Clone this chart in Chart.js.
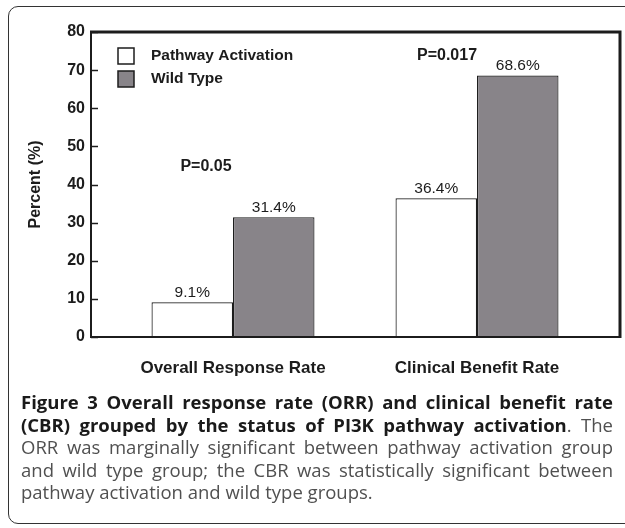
<!DOCTYPE html>
<html>
<head>
<meta charset="utf-8">
<script src="https://cdn.jsdelivr.net/npm/chart.js@4/dist/chart.umd.min.js"></script>
<style>
    html, body { margin: 0; padding: 0; background: #fff; }
    body { width: 625px; height: 528px; position: relative; overflow: hidden; }
    .frame {
        position: absolute; left: 8px; top: 6px; width: 640px; height: 518px;
        border: 1.5px solid #333; border-radius: 10px; box-sizing: border-box;
    }
    .chart-box { position: absolute; left: 0; top: 0; width: 625px; height: 392px; }
    .caption {
        position: absolute; left: 21px; top: 391px; width: 592px;
        font-family: 'Open Sans', sans-serif; font-size: 18.5px; line-height: 22.5px;
        color: #505050;
    }
    .caption div { white-space: nowrap; text-align: justify; text-align-last: justify; }
    .caption div.last { text-align-last: left; }
    .caption b { color: #1a1a1a; }
</style>
</head>
<body>
<div class="frame"></div>
<div class="chart-box"><canvas id="chart" width="625" height="392"></canvas></div>
<div class="caption">
    <div><b>Figure 3 Overall response rate (ORR) and clinical benefit rate</b></div>
    <div><b>(CBR) grouped by the status of PI3K pathway activation</b>. The</div>
    <div>ORR was marginally significant between pathway activation group</div>
    <div>and wild type group; the CBR was statistically significant between</div>
    <div class="last">pathway activation and wild type groups.</div>
</div>

<script>
// data
const categories = ['Overall Response Rate', 'Clinical Benefit Rate'];
const seriesNames = ['Pathway Activation', 'Wild Type'];
const pathwayActivation = [9.1, 36.4];
const wildType = [31.4, 68.6];
const yTicks = [0, 10, 20, 30, 40, 50, 60, 70, 80];
const pValues = ['P=0.05', 'P=0.017'];

const INK = '#1c1c1c';
const GREY = '#888489';
const FONT = "'Liberation Sans', Arial, sans-serif";

// frame, inward ticks, legend, value labels and p-values
const decorations = {
    id: 'decorations',
    afterDatasetsDraw(chart) {
        const ctx = chart.ctx;
        const a = chart.chartArea;
        const y = chart.scales.y;
        const x = chart.scales.x;
        ctx.save();

        // y ticks pointing inwards
        ctx.strokeStyle = INK;
        ctx.lineWidth = 1.5;
        yTicks.forEach(t => {
            const py = Math.round(y.getPixelForValue(t)) + 0.5;
            ctx.beginPath();
            ctx.moveTo(a.left, py);
            ctx.lineTo(a.left + 7, py);
            ctx.stroke();
        });

        // plot frame
        ctx.lineWidth = 2;
        ctx.beginPath();
        ctx.moveTo(a.left, a.top);
        ctx.lineTo(a.left, a.bottom);
        ctx.lineTo(a.right, a.bottom);
        ctx.stroke();
        ctx.lineWidth = 3;
        ctx.beginPath();
        ctx.moveTo(a.left - 1, a.top);
        ctx.lineTo(a.right, a.top);
        ctx.lineTo(a.right, a.bottom + 1);
        ctx.stroke();

        // value labels above bars
        ctx.fillStyle = INK;
        ctx.font = '15.5px ' + FONT;
        ctx.textAlign = 'center';
        ctx.textBaseline = 'alphabetic';
        chart.data.datasets.forEach((ds, di) => {
            chart.getDatasetMeta(di).data.forEach((bar, i) => {
                ctx.fillText(ds.data[i].y.toFixed(1) + '%', bar.x, bar.y - 5);
            });
        });

        // p-values
        ctx.font = 'bold 16px ' + FONT;
        ctx.textBaseline = 'middle';
        ctx.fillText(pValues[0], x.getPixelForValue(0) - 27, y.getPixelForValue(44.7));
        ctx.fillText(pValues[1], x.getPixelForValue(1) - 30, y.getPixelForValue(73.8));

        // legend
        ctx.textAlign = 'left';
        ctx.font = 'bold 15.5px ' + FONT;
        chart.data.datasets.forEach((ds, di) => {
            const top = a.top + 16 + di * 23;
            ctx.fillStyle = ds.backgroundColor;
            ctx.fillRect(a.left + 27, top, 16, 16);
            ctx.lineWidth = 1.5;
            ctx.strokeStyle = INK;
            ctx.strokeRect(a.left + 27, top, 16, 16);
            ctx.fillStyle = INK;
            ctx.fillText(ds.label, a.left + 60, top + 8);
        });
        ctx.restore();
    }
};

const toPoints = arr => arr.map((v, i) => ({ x: i, y: v }));

new Chart(document.getElementById('chart'), {
    type: 'bar',
    data: {
        datasets: [
            {
                label: seriesNames[0],
                data: toPoints(pathwayActivation),
                backgroundColor: '#ffffff',
                borderColor: INK,
                borderWidth: 1.2
            },
            {
                label: seriesNames[1],
                data: toPoints(wildType),
                backgroundColor: GREY,
                borderColor: INK,
                borderWidth: 1.2
            }
        ]
    },
    options: {
        responsive: false,
        animation: false,
        categoryPercentage: 0.668,
        barPercentage: 1,
        layout: { padding: { top: 32, right: 5, left: 0, bottom: 0 } },
        plugins: {
            legend: { display: false },
            tooltip: { enabled: false }
        },
        scales: {
            x: {
                type: 'linear',
                offset: false,
                min: -0.582,
                max: 1.586,
                grid: { display: false, drawTicks: false },
                border: { display: false },
                afterBuildTicks: s => { s.ticks = categories.map((c, i) => ({ value: i })); },
                afterFit: s => { s.height = 55; },
                ticks: {
                    padding: 21,
                    color: INK,
                    font: { family: FONT, size: 17, weight: 'bold' },
                    callback: v => categories[v]
                }
            },
            y: {
                min: 0,
                max: 80,
                afterBuildTicks: s => { s.ticks = yTicks.map(v => ({ value: v })); },
                afterFit: s => { s.width = 91; },
                grid: { display: false, drawTicks: false },
                border: { display: false },
                ticks: {
                    padding: 6,
                    color: INK,
                    font: { family: FONT, size: 16, weight: 'bold' }
                },
                title: {
                    display: true,
                    text: 'Percent (%)',
                    color: INK,
                    padding: { top: 26, bottom: 0 },
                    font: { family: FONT, size: 16, weight: 'bold' }
                }
            }
        }
    },
    plugins: [decorations]
});
</script>
</body>
</html>
